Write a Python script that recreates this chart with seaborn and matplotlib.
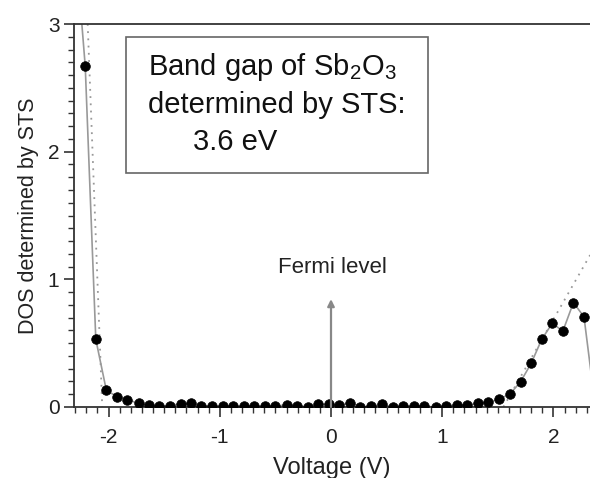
import matplotlib
matplotlib.use("Agg")
import matplotlib.pyplot as plt
from matplotlib.patches import Rectangle
from matplotlib.ticker import MultipleLocator
import seaborn as sns
import pandas as pd

# STS data (V, DOS)
voltage = [-2.305, -2.21, -2.115, -2.02, -1.92, -1.83, -1.73, -1.64, -1.545, -1.45, -1.35,
           -1.26, -1.165, -1.07, -0.97, -0.88, -0.785, -0.69, -0.59, -0.50, -0.40,
           -0.305, -0.21, -0.115, -0.02, 0.075, 0.17, 0.265, 0.36, 0.46, 0.555,
           0.65, 0.745, 0.84, 0.94, 1.035, 1.13, 1.225, 1.32, 1.415, 1.51,
           1.61, 1.705, 1.80, 1.895, 1.99, 2.085, 2.18, 2.275, 2.37]
dos = [3.7, 2.67, 0.53, 0.13, 0.08, 0.055, 0.03, 0.012, 0.01, 0.01, 0.025,
       0.028, 0.01, 0.005, 0.005, 0.005, 0.005, 0.005, 0.005, 0.005, 0.018,
       0.01, 0.0, 0.02, 0.02, 0.012, 0.035, 0.0, 0.005, 0.02, 0.0,
       0.005, 0.008, 0.005, 0.0, 0.01, 0.015, 0.015, 0.03, 0.037, 0.06,
       0.102, 0.198, 0.342, 0.53, 0.656, 0.594, 0.818, 0.706, 0.05]

# linear band-edge fits (dotted)
fit_left_v = [-2.188, -2.057]
fit_left_dos = [3.0, 0.0]
fit_right_v = [1.55, 2.33]
fit_right_dos = [0.0, 1.19]

fermi_v = 0.0
fermi_top = 0.845

df = pd.DataFrame({"Voltage": voltage, "DOS": dos})

sns.set_style("ticks")
plt.rcParams['font.family'] = ['Liberation Sans', 'DejaVu Sans']
plt.rcParams['mathtext.fontset'] = 'custom'
plt.rcParams['mathtext.rm'] = 'Liberation Sans'
plt.rcParams['mathtext.it'] = 'Liberation Sans'
plt.rcParams['axes.unicode_minus'] = False

fig = plt.figure(figsize=(5.9, 4.78), dpi=100)
ax = fig.add_axes([74 / 590, 71 / 478, 516 / 590, 383 / 478])

ax.plot(fit_left_v, fit_left_dos, ls=(0, (1, 3)), color='#999999', lw=1.3)
ax.plot(fit_right_v, fit_right_dos, ls=(0, (1, 3)), color='#999999', lw=1.3)
sns.lineplot(data=df, x="Voltage", y="DOS", ax=ax, color='#999999', lw=1.2, sort=False)
sns.scatterplot(data=df, x="Voltage", y="DOS", ax=ax, color='black', s=48,
                edgecolor='black', linewidth=0.5, zorder=3)

ax.annotate("", xy=(fermi_v, fermi_top), xytext=(fermi_v, 0),
            arrowprops=dict(arrowstyle='-|>', color='#888888', lw=1.6,
                            mutation_scale=10, shrinkA=0, shrinkB=0))
ax.text(fermi_v + 0.01, 1.05, "Fermi level", ha='center', va='baseline',
        fontsize=16, color='#222222')

ax.add_patch(Rectangle((-1.843, 1.832), 2.715, 1.065, fill=False,
                       edgecolor='#666666', lw=1.2))
ax.text(-1.646, 2.60, "Band gap of Sb$_2$O$_3$", fontsize=21, va='baseline', color='#111111')
ax.text(-1.646, 2.30, "determined by STS:", fontsize=21, va='baseline', color='#111111')
ax.text(-1.24, 2.01, "3.6 eV", fontsize=21, va='baseline', color='#111111')

ax.set_xlim(-2.311, 2.329)
ax.set_ylim(0, 3)
ax.xaxis.set_major_locator(MultipleLocator(1))
ax.xaxis.set_minor_locator(MultipleLocator(0.1))
ax.yaxis.set_major_locator(MultipleLocator(1))
ax.yaxis.set_minor_locator(MultipleLocator(0.1))
ax.tick_params(which='major', length=7, width=1.2, labelsize=15, colors='#333333')
ax.tick_params(which='minor', length=4, width=1.0, colors='#333333')
ax.tick_params(axis='x', which='major', pad=8)
ax.tick_params(labelcolor='#222222')
for s in ['left', 'bottom', 'top']:
    ax.spines[s].set_color('#333333')
    ax.spines[s].set_linewidth(1.3)
ax.spines['right'].set_visible(False)
ax.set_xlabel("Voltage (V)", fontsize=17, color='#222222', labelpad=7)
ax.set_ylabel("DOS determined by STS", fontsize=15.5, color='#222222', labelpad=6)

fig.savefig("out.png", dpi=100)
